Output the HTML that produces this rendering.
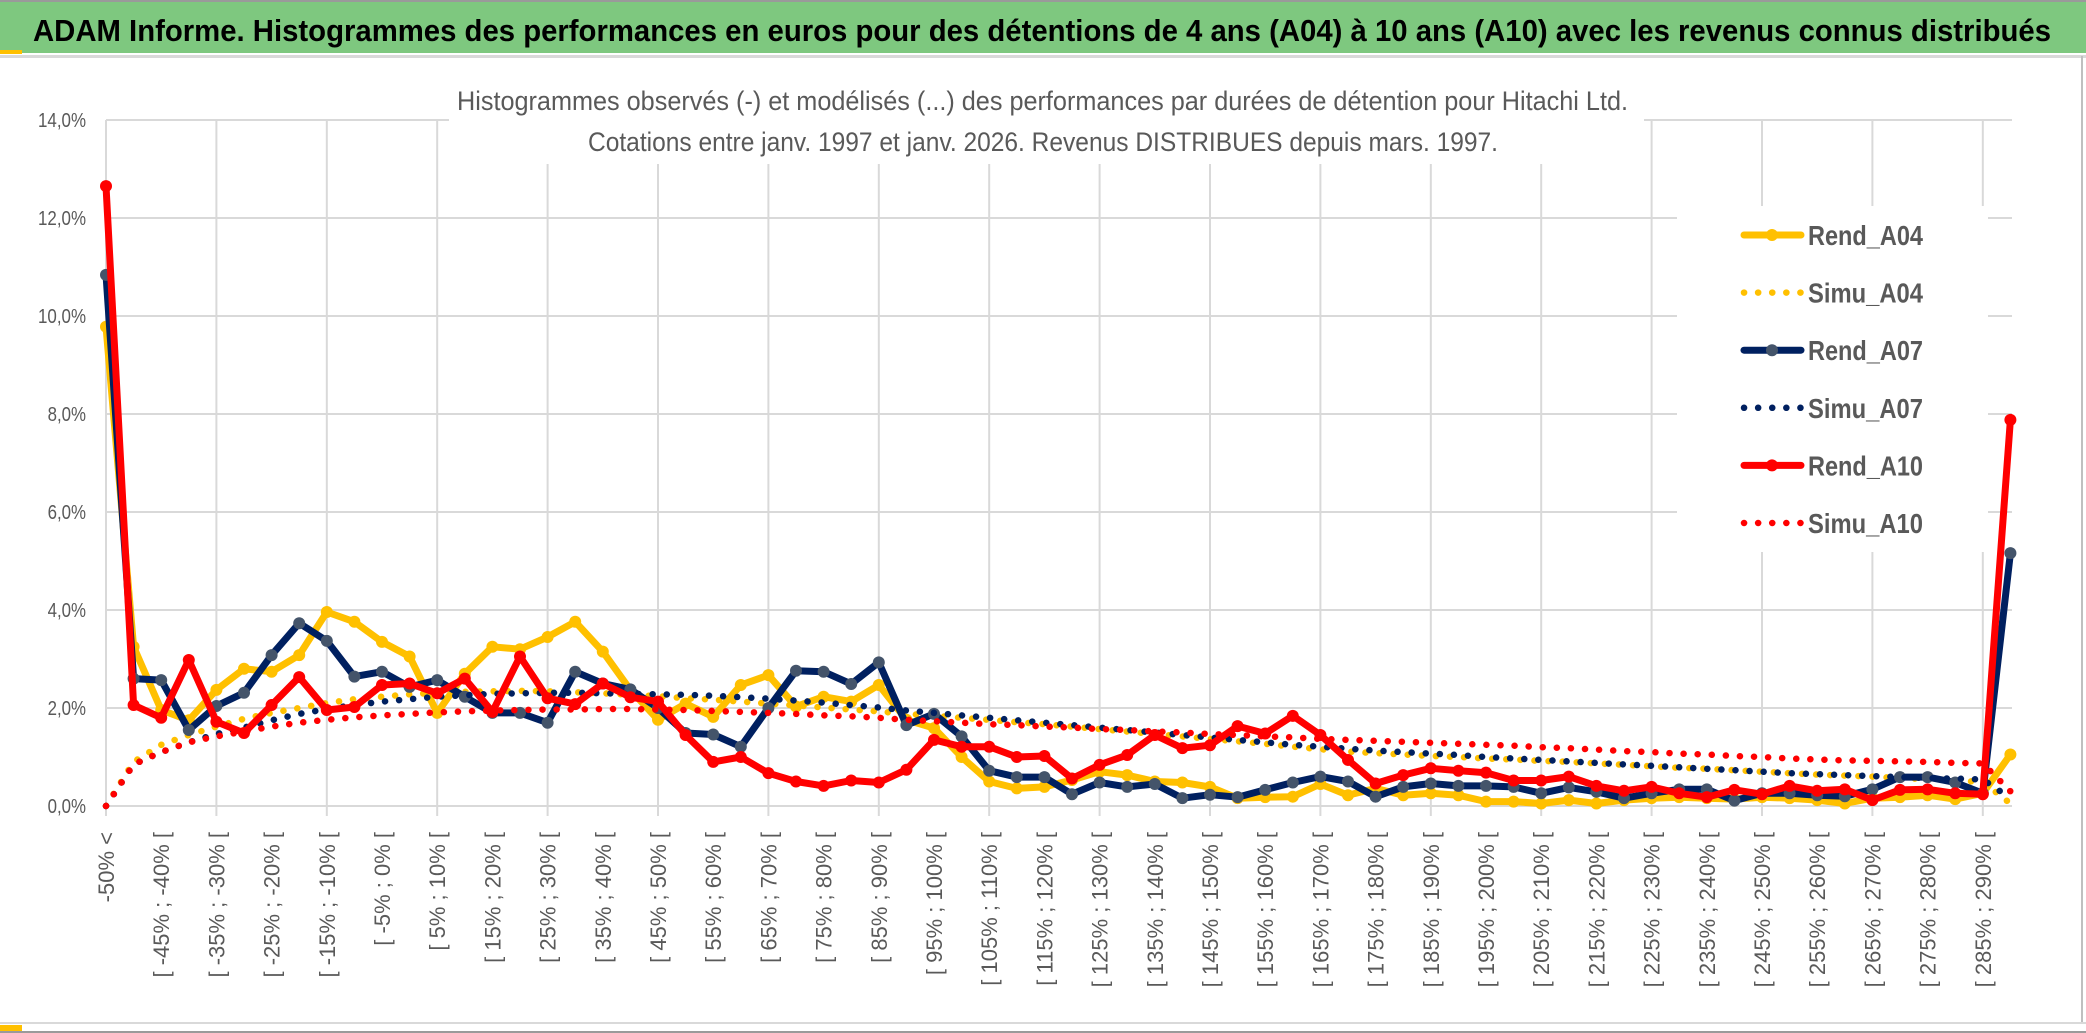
<!DOCTYPE html>
<html><head><meta charset="utf-8"><title>ADAM Informe - Hitachi</title>
<style>
html,body{margin:0;padding:0;background:#fff;}
svg{display:block;}
text{font-family:"Liberation Sans",sans-serif;}
</style></head>
<body>
<svg id="chart" width="2086" height="1033" viewBox="0 0 2086 1033" xmlns="http://www.w3.org/2000/svg">
  <rect x="0" y="0" width="2086" height="1033" fill="#fff"/>
  <rect x="0" y="0" width="2086" height="2" fill="#9a9a9a"/>
  <rect x="0" y="2" width="2086" height="51" fill="#7ec87f"/>
  <rect x="0" y="50" width="22" height="4" fill="#ffc000"/>
  <rect x="0" y="55" width="2086" height="3" fill="#d9d9d9"/>
  <text x="33" y="41" font-size="31" font-weight="bold" fill="#000" textLength="2018" lengthAdjust="spacingAndGlyphs">ADAM Informe. Histogrammes des performances en euros pour des détentions de 4 ans (A04) à 10 ans (A10) avec les revenus connus distribués</text>
  <g id="grid"></g>
  <rect x="449" y="75" width="1195" height="89" fill="#fff"/>
  <text x="457" y="110" font-size="27" fill="#595959" textLength="1171" lengthAdjust="spacingAndGlyphs">Histogrammes observés (-) et modélisés (...) des performances par durées de détention pour Hitachi Ltd.</text>
  <text x="588" y="151" font-size="27" fill="#595959" textLength="910" lengthAdjust="spacingAndGlyphs">Cotations entre janv. 1997 et janv. 2026. Revenus DISTRIBUES depuis mars. 1997.</text>
  <g id="yaxis"></g>
  <g id="xaxis"></g>
  <g id="series"></g>
  <g id="legend"></g>
  <rect x="2081" y="56" width="2" height="968" fill="#bfbfbf"/>
  <rect x="0" y="1022" width="2086" height="2" fill="#d9d9d9"/>
  <rect x="0" y="1025" width="22" height="6" fill="#ffc000"/>
  <rect x="0" y="1031" width="2086" height="2" fill="#9a9a9a"/>
</svg>
<script>
const yTicks = [0, 2, 4, 6, 8, 10, 12, 14];
const yTickLabels = ["0,0%", "2,0%", "4,0%", "6,0%", "8,0%", "10,0%", "12,0%", "14,0%"];
const categoryCount = 70;
const rendA04 = [9.78,3.25,1.96,1.75,2.37,2.8,2.74,3.08,3.96,3.76,3.35,3.05,1.9,2.7,3.25,3.2,3.45,3.76,3.15,2.37,1.76,2.09,1.82,2.47,2.67,2.03,2.23,2.13,2.47,1.76,1.59,1.0,0.5,0.36,0.39,0.53,0.7,0.63,0.5,0.48,0.39,0.16,0.18,0.19,0.45,0.22,0.36,0.22,0.26,0.22,0.09,0.09,0.05,0.12,0.05,0.12,0.16,0.18,0.16,0.14,0.18,0.16,0.12,0.05,0.16,0.18,0.22,0.14,0.26,1.05];
const simuA04 = [0,0.9,1.25,1.45,1.62,1.78,1.9,2.0,2.1,2.18,2.23,2.28,2.31,2.33,2.34,2.35,2.34,2.32,2.3,2.27,2.24,2.2,2.17,2.13,2.09,2.05,2.01,1.97,1.93,1.88,1.84,1.8,1.76,1.71,1.67,1.62,1.57,1.52,1.47,1.42,1.37,1.32,1.27,1.21,1.16,1.11,1.08,1.05,1.02,1.0,0.97,0.95,0.92,0.9,0.87,0.84,0.81,0.78,0.76,0.73,0.7,0.67,0.64,0.62,0.6,0.57,0.55,0.52,0.49,0.05];
const rendA07 = [10.84,2.6,2.57,1.55,2.04,2.31,3.08,3.73,3.37,2.64,2.74,2.43,2.57,2.23,1.9,1.9,1.7,2.74,2.5,2.38,2.0,1.49,1.46,1.21,2.0,2.76,2.74,2.49,2.93,1.65,1.88,1.42,0.72,0.59,0.59,0.24,0.48,0.39,0.45,0.16,0.23,0.18,0.33,0.48,0.6,0.5,0.19,0.39,0.46,0.41,0.41,0.39,0.26,0.38,0.29,0.16,0.26,0.34,0.34,0.11,0.26,0.26,0.22,0.2,0.34,0.59,0.59,0.48,0.26,5.16];
const simuA07 = [0,0.85,1.1,1.3,1.47,1.6,1.75,1.88,1.98,2.06,2.13,2.18,2.23,2.26,2.29,2.3,2.31,2.31,2.3,2.29,2.28,2.27,2.25,2.22,2.19,2.15,2.11,2.06,2.01,1.95,1.9,1.85,1.8,1.75,1.7,1.65,1.6,1.55,1.5,1.45,1.4,1.35,1.3,1.25,1.21,1.17,1.13,1.1,1.07,1.04,1.0,0.97,0.94,0.91,0.88,0.85,0.82,0.79,0.76,0.73,0.7,0.67,0.65,0.63,0.61,0.59,0.57,0.56,0.54,0.16];
const rendA10 = [12.65,2.06,1.8,2.98,1.72,1.49,2.06,2.63,1.96,2.02,2.47,2.5,2.3,2.6,1.92,3.05,2.2,2.08,2.5,2.22,2.13,1.45,0.9,1.0,0.67,0.5,0.41,0.52,0.48,0.74,1.35,1.21,1.21,1.0,1.02,0.56,0.84,1.04,1.45,1.18,1.24,1.63,1.48,1.84,1.45,0.94,0.46,0.63,0.77,0.72,0.68,0.52,0.52,0.6,0.41,0.31,0.39,0.26,0.18,0.33,0.24,0.41,0.31,0.34,0.12,0.33,0.34,0.26,0.24,7.88];
const simuA10 = [0,0.85,1.1,1.3,1.42,1.52,1.62,1.7,1.76,1.81,1.85,1.88,1.91,1.93,1.95,1.96,1.97,1.97,1.98,1.98,1.97,1.96,1.94,1.92,1.9,1.88,1.85,1.83,1.8,1.76,1.73,1.7,1.67,1.65,1.62,1.6,1.57,1.55,1.52,1.5,1.47,1.45,1.42,1.4,1.37,1.35,1.33,1.31,1.29,1.27,1.25,1.23,1.2,1.18,1.15,1.12,1.1,1.07,1.05,1.02,1.0,0.97,0.95,0.93,0.92,0.91,0.9,0.88,0.87,0.3];
const legendLabels = ["Rend_A04", "Simu_A04", "Rend_A07", "Simu_A07", "Rend_A10", "Simu_A10"];

const NS = "http://www.w3.org/2000/svg";
const X0 = 106, DX = 27.6, Y0 = 806, YSCALE = 49;
function xPos(i){ return X0 + i * DX; }
function yPos(v){ return Y0 - v * YSCALE; }
function mk(tag, attrs, parent){
  const e = document.createElementNS(NS, tag);
  for (const k in attrs) e.setAttribute(k, attrs[k]);
  parent.appendChild(e);
  return e;
}
function catLabel(i){
  if (i === 0) return "-50% <";
  const a = -50 + 5 * (i - 1), b = a + 5;
  return "[ " + a + "% ; " + b + "% [";
}

const grid = document.getElementById("grid");
yTicks.forEach(function(t){
  const l = mk("line", {x1: X0, x2: 2012, y1: yPos(t), y2: yPos(t), stroke: "#d9d9d9", "stroke-width": 2}, grid);
  
  
});
for (let i = 0; i < categoryCount; i += 4) {
  const l = mk("line", {x1: xPos(i), x2: xPos(i), y1: yPos(14), y2: Y0 + 10, stroke: "#d9d9d9", "stroke-width": 2}, grid);
  
  
}

const yaxis = document.getElementById("yaxis");
yTicks.forEach(function(t, k){
  const lab = yTickLabels[k];
  const tx = mk("text", {x: 86, y: yPos(t) + 7, "font-size": 20, fill: "#595959", "text-anchor": "end", textLength: lab.length * 9.6, lengthAdjust: "spacingAndGlyphs"}, yaxis);
  tx.textContent = lab;
  
  
});

const xaxis = document.getElementById("xaxis");
for (let i = 0; i < categoryCount; i += 2) {
  const cx = xPos(i) + 8, cy = 832;
  const tx = mk("text", {x: cx, y: cy, "font-size": 22, fill: "#595959", "text-anchor": "end", transform: "rotate(-90 " + cx + " " + cy + ")"}, xaxis);
  tx.textContent = catLabel(i);
  
  
}

const seriesG = document.getElementById("series");
function ptsOf(arr){ return arr.map(function(v, i){ return xPos(i).toFixed(1) + "," + yPos(v).toFixed(1); }).join(" "); }
function solid(arr, color, markerColor, name){
  const g = mk("g", {}, seriesG);
  
  
  const pl = mk("polyline", {points: ptsOf(arr), fill: "none", stroke: color, "stroke-width": 7, "stroke-linejoin": "round", "stroke-linecap": "round"}, g);
  
  
  arr.forEach(function(v, i){
    const c = mk("circle", {cx: xPos(i), cy: yPos(v), r: 6, fill: markerColor}, g);
    
    
  });
}
function dotted(arr, color, name){
  const pl = mk("polyline", {points: ptsOf(arr), fill: "none", stroke: color, "stroke-width": 6.5, "stroke-linecap": "round", "stroke-dasharray": "0.1 14", "stroke-linejoin": "round"}, seriesG);
  
  
}
solid(rendA04, "#ffc000", "#ffc000", "rend-a04");
dotted(simuA04, "#ffc000", "simu-a04");
solid(rendA07, "#002060", "#44546a", "rend-a07");
dotted(simuA07, "#002060", "simu-a07");
solid(rendA10, "#ff0000", "#ff0000", "rend-a10");
dotted(simuA10, "#ff0000", "simu-a10");

const legend = document.getElementById("legend");
const lb = mk("rect", {x: 1677, y: 206, width: 311, height: 346, fill: "#fff"}, legend);


const legendColors = ["#ffc000", "#ffc000", "#002060", "#002060", "#ff0000", "#ff0000"];
const legendMarkers = ["#ffc000", null, "#44546a", null, "#ff0000", null];
legendLabels.forEach(function(lab, k){
  const y = 235 + k * 57.6;
  const g = mk("g", {}, legend);
  
  
  if (legendMarkers[k]) {
    mk("line", {x1: 1744, x2: 1801, y1: y, y2: y, stroke: legendColors[k], "stroke-width": 7, "stroke-linecap": "round"}, g);
    mk("circle", {cx: 1772, cy: y, r: 6, fill: legendMarkers[k]}, g);
  } else {
    mk("line", {x1: 1744, x2: 1801, y1: y, y2: y, stroke: legendColors[k], "stroke-width": 6.5, "stroke-linecap": "round", "stroke-dasharray": "0.1 14"}, g);
  }
  const tx = mk("text", {x: 1808, y: y + 10, "font-size": 28, "font-weight": "bold", fill: "#595959", textLength: 115, lengthAdjust: "spacingAndGlyphs"}, g);
  tx.textContent = lab;
  
  
});
</script>
</body></html>
